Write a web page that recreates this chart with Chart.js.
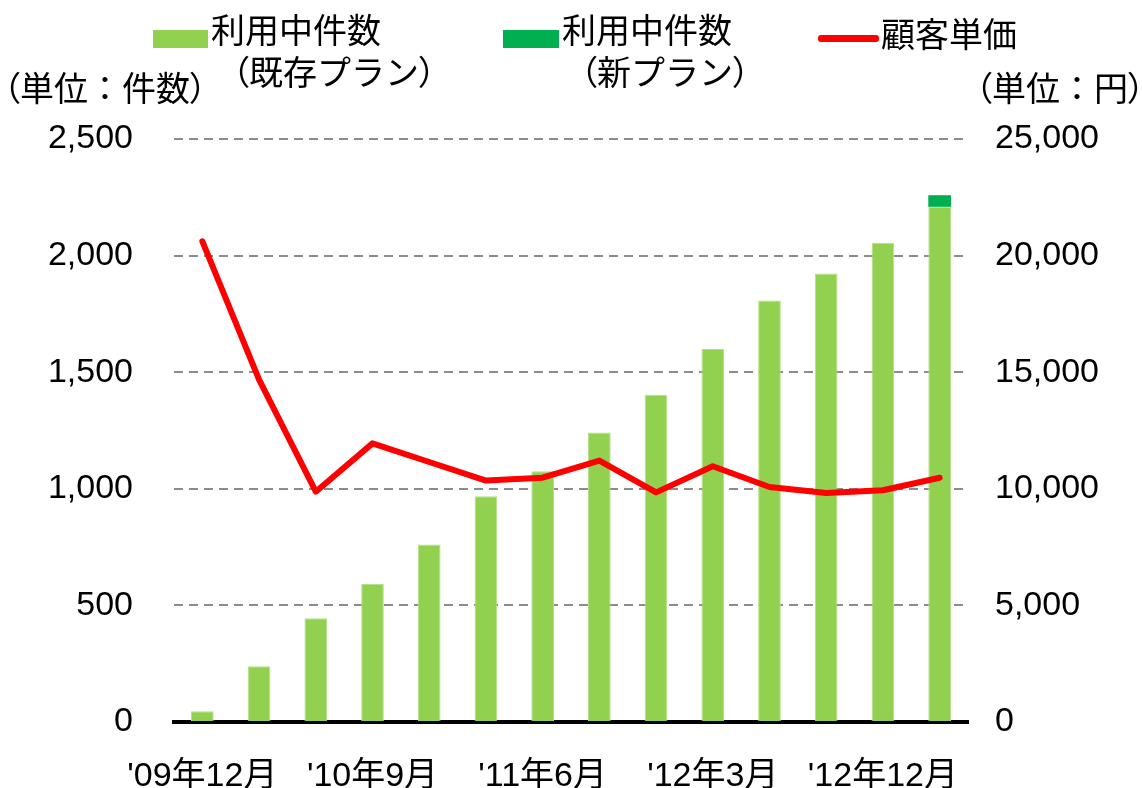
<!DOCTYPE html>
<html>
<head>
<meta charset="utf-8">
<script src="https://cdn.jsdelivr.net/npm/chart.js@4.4.1/dist/chart.umd.min.js"></script>
<style>
  html, body { margin: 0; padding: 0; background: #fff; }
  #wrap { position: relative; width: 1142px; height: 788px; overflow: hidden; }
  #wrap canvas { position: absolute; left: 0; top: 0; }
  .t { position: absolute; font-family: 'Noto Sans CJK JP', sans-serif; font-size: 34px; line-height: 40px; color: #000; white-space: nowrap; }
  .p { font-feature-settings: "palt"; }
  .sw { position: absolute; }
</style>
</head>
<body>
<div id="wrap">
  <canvas id="c" width="1142" height="788"></canvas>
  <div class="sw" style="left:153px; top:30px; width:55px; height:18px; background:#92D050;"></div>
  <div class="t" style="left:211px; top:9px;">利用中件数</div>
  <div class="t" style="left:232px; top:51px;"><span class="p">（</span>既存プラン<span class="p">）</span></div>
  <div class="sw" style="left:503px; top:30px; width:56px; height:18px; background:#00B050;"></div>
  <div class="t" style="left:562px; top:9px;">利用中件数</div>
  <div class="t" style="left:580px; top:51px;"><span class="p">（</span>新プラン<span class="p">）</span></div>
  <div class="sw" style="left:818px; top:35px; width:61px; height:7px; background:#FF0000; border-radius:3px;"></div>
  <div class="t" style="left:881px; top:13px;">顧客単価</div>
  <div class="t" style="left:3px; top:67px;"><span class="p">（</span>単位：件数<span class="p">）</span></div>
  <div class="t" style="left:975px; top:67px;"><span class="p">（</span>単位：円<span class="p">）</span></div>
</div>
<script>
const categories = ["'09年12月","'10年3月","'10年6月","'10年9月","'10年12月","'11年3月","'11年6月","'11年9月","'11年12月","'12年3月","'12年6月","'12年9月","'12年12月","'13年3月"];
const shownLabels = ["'09年12月","'10年9月","'11年6月","'12年3月","'12年12月"];
const existingPlan = [46,239,445,592,761,968,1075,1241,1403,1600,1807,1923,2055,2209];
const newPlan = [null,null,null,null,null,null,null,null,null,null,null,null,null,50];
const unitPrice = [20613,14678,9877,11948,11150,10353,10475,11212,9847,10966,10077,9816,9939,10475];
const leftTickValues = [0,500,1000,1500,2000,2500];
const rightTickValues = [0,5000,10000,15000,20000,25000];

Chart.defaults.font.family = "'Liberation Sans', 'Noto Sans CJK JP', sans-serif";
Chart.defaults.color = '#000';

new Chart(document.getElementById('c'), {
  type: 'bar',
  data: {
    labels: categories,
    datasets: [
      { type: 'line', label: '顧客単価', data: unitPrice, yAxisID: 'y1', borderColor: '#FF0000', backgroundColor: '#FF0000', borderWidth: 6, pointRadius: 0, tension: 0, order: 0, borderCapStyle: 'round', borderJoinStyle: 'round' },
      { label: '利用中件数（既存プラン）', data: existingPlan, yAxisID: 'y', backgroundColor: '#92D050', borderColor: '#B5E08A', borderWidth: {left:1,right:1,top:1,bottom:0}, barPercentage: 0.8, categoryPercentage: 0.5, order: 1, stack: 's' },
      { label: '利用中件数（新プラン）', data: newPlan, yAxisID: 'y', backgroundColor: '#00B050', barPercentage: 0.8, categoryPercentage: 0.5, order: 1, stack: 's' }
    ]
  },
  options: {
    responsive: false,
    animation: false,
    layout: { padding: { top: 139, left: 0, right: 0, bottom: 0 } },
    plugins: { legend: { display: false }, tooltip: { enabled: false } },
    scales: {
      x: {
        stacked: true,
        grid: { display: false, drawTicks: false },
        border: { display: true, color: '#000', width: 4 },
        ticks: {
          autoSkip: false, maxRotation: 0, padding: 34,
          font: { size: 34 },
          callback: function(v, i) { const l = categories[i]; return shownLabels.includes(l) ? l : ''; }
        },
        afterFit: function(s) { s.height = 66; }
      },
      y: {
        position: 'left', stacked: true, min: 0, max: 2500,
        afterBuildTicks: function(s) { s.ticks = leftTickValues.map(v => ({ value: v })); },
        grid: { color: '#8C8C8C', lineWidth: 2, drawTicks: false },
        border: { display: false, dash: [9, 6] },
        ticks: { padding: 41, font: { size: 34 }, callback: v => v.toLocaleString('en-US') },
        afterFit: function(s) { s.width = 174; }
      },
      y1: {
        position: 'right', min: 0, max: 25000,
        afterBuildTicks: function(s) { s.ticks = rightTickValues.map(v => ({ value: v })); },
        grid: { display: false, drawTicks: false },
        border: { display: false },
        ticks: { padding: 27, font: { size: 34 }, callback: v => v.toLocaleString('en-US') },
        afterFit: function(s) { s.width = 174; }
      }
    }
  }
});
</script>
</body>
</html>
